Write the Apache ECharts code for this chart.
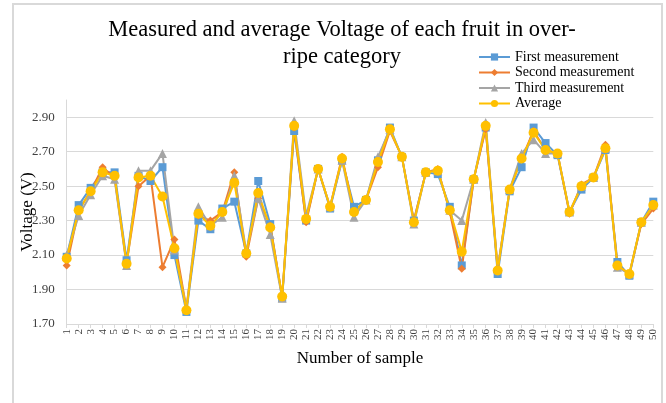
<!DOCTYPE html>
<html>
<head>
<meta charset="utf-8">
<script src="https://cdn.jsdelivr.net/npm/echarts@6/dist/echarts.min.js"></script>
<style>
  html, body { margin: 0; padding: 0; background: #fff; }
  #chart { width: 666px; height: 403px; }
</style>
</head>
<body>
<div id="chart"></div>
<script>
var samples = [];
for (var i = 1; i <= 50; i++) samples.push(String(i));

var firstMeasurement = [
  2.09, 2.39, 2.49, 2.58, 2.58, 2.07, 2.56, 2.53, 2.61, 2.10,
  1.77, 2.30, 2.25, 2.37, 2.41, 2.11, 2.53, 2.28, 1.85, 2.82,
  2.30, 2.60, 2.37, 2.65, 2.38, 2.42, 2.65, 2.84, 2.67, 2.30,
  2.58, 2.57, 2.38, 2.04, 2.54, 2.84, 1.99, 2.47, 2.61, 2.84,
  2.75, 2.68, 2.35, 2.48, 2.55, 2.71, 2.06, 1.98, 2.29, 2.41
];
var secondMeasurement = [
  2.04, 2.36, 2.47, 2.61, 2.55, 2.05, 2.50, 2.56, 2.03, 2.19,
  1.79, 2.33, 2.30, 2.35, 2.58, 2.09, 2.43, 2.27, 1.86, 2.84,
  2.29, 2.60, 2.38, 2.67, 2.35, 2.42, 2.61, 2.82, 2.67, 2.30,
  2.58, 2.60, 2.35, 2.02, 2.54, 2.83, 2.02, 2.48, 2.66, 2.82,
  2.71, 2.69, 2.34, 2.51, 2.55, 2.74, 2.04, 1.99, 2.28, 2.37
];
var thirdMeasurement = [
  2.10, 2.33, 2.45, 2.56, 2.54, 2.04, 2.59, 2.59, 2.69, 2.13,
  1.79, 2.38, 2.27, 2.32, 2.56, 2.12, 2.43, 2.22, 1.85, 2.88,
  2.33, 2.60, 2.38, 2.65, 2.32, 2.42, 2.67, 2.83, 2.67, 2.28,
  2.58, 2.59, 2.36, 2.30, 2.54, 2.87, 2.02, 2.48, 2.69, 2.77,
  2.69, 2.69, 2.35, 2.50, 2.55, 2.72, 2.03, 1.99, 2.29, 2.39
];
var average = [
  2.08, 2.36, 2.47, 2.58, 2.56, 2.05, 2.55, 2.56, 2.44, 2.14,
  1.78, 2.34, 2.27, 2.35, 2.52, 2.11, 2.46, 2.26, 1.86, 2.85,
  2.31, 2.60, 2.38, 2.66, 2.35, 2.42, 2.64, 2.83, 2.67, 2.29,
  2.58, 2.59, 2.36, 2.12, 2.54, 2.85, 2.01, 2.48, 2.66, 2.81,
  2.71, 2.69, 2.35, 2.50, 2.55, 2.72, 2.04, 1.99, 2.29, 2.39
];

var seriesNames = ['First measurement', 'Second measurement', 'Third measurement', 'Average'];
var seriesColors = ['#5B9BD5', '#ED7D31', '#A5A5A5', '#FFC000'];
var seriesSymbols = ['rect', 'diamond', 'triangle', 'circle'];
var symbolSizes = [8, 8, 9, 10];

var fontFam = '"Liberation Serif", "Times New Roman", serif';

var dom = document.getElementById('chart');
var myChart = echarts.init(dom);

var dataSets = [firstMeasurement, secondMeasurement, thirdMeasurement, average];
var series = [];
for (var s = 0; s < 4; s++) {
  series.push({
    name: seriesNames[s],
    type: 'line',
    data: dataSets[s],
    symbol: seriesSymbols[s],
    symbolSize: symbolSizes[s],
    lineStyle: { width: 2, color: seriesColors[s] },
    itemStyle: { color: seriesColors[s] }
  });
}

var option = {
  animation: false,
  color: seriesColors,
  graphic: [{
    type: 'rect',
    shape: { x: 13, y: 4, width: 649, height: 420 },
    style: { fill: 'none', stroke: '#d9d9d9', lineWidth: 2 },
    silent: true
  }],
  title: {
    text: 'Measured and average Voltage of each fruit in over-\nripe category',
    left: 337,
    top: 12,
    textAlign: 'center',
    textStyle: {
      fontFamily: fontFam,
      fontSize: 22.5,
      fontWeight: 'normal',
      color: '#000',
      lineHeight: 27
    }
  },
  legend: {
    data: seriesNames,
    orient: 'vertical',
    left: 473,
    top: 45,
    itemWidth: 31,
    itemHeight: 9,
    itemGap: 1.5,
    textStyle: { fontFamily: fontFam, fontSize: 14, color: '#000' }
  },
  grid: {
    left: 66.7,
    right: 12.7,
    top: 100,
    bottom: 79,
    containLabel: false
  },
  xAxis: {
    type: 'category',
    boundaryGap: false,
    data: samples,
    name: 'Number of sample',
    nameLocation: 'middle',
    nameGap: 26,
    nameMoveOverlap: false,
    nameTextStyle: { fontFamily: fontFam, fontSize: 17, color: '#000' },
    axisLine: { lineStyle: { color: '#d9d9d9', width: 1 } },
    axisTick: { show: true, length: 4, lineStyle: { color: '#d9d9d9' } },
    axisLabel: {
      interval: 0,
      rotate: 90,
      margin: 5,
      fontFamily: fontFam,
      fontSize: 11,
      color: '#404040'
    },
    splitLine: { show: false }
  },
  yAxis: {
    type: 'value',
    min: 1.7,
    max: 3.0,
    interval: 0.2,
    name: 'Voltage (V)',
    nameLocation: 'middle',
    nameGap: 31,
    nameMoveOverlap: false,
    nameTextStyle: { fontFamily: fontFam, fontSize: 17, color: '#000' },
    axisLine: { show: true, lineStyle: { color: '#d9d9d9', width: 1 } },
    axisTick: { show: false },
    axisLabel: {
      showMaxLabel: false,
      margin: 12,
      fontFamily: fontFam,
      fontSize: 13,
      color: '#404040',
      formatter: function (v) { return v.toFixed(2); }
    },
    splitLine: { show: true, showMaxLine: false, lineStyle: { color: '#d9d9d9', width: 1 } }
  },
  series: series
};

if (option && typeof option === 'object') {
  myChart.setOption(option, false);
}
</script>
</body>
</html>
